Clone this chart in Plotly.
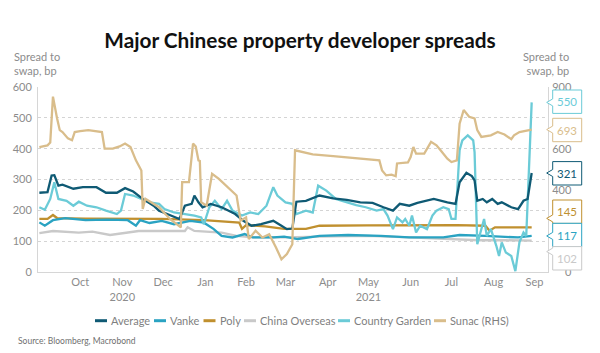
import plotly.graph_objects as go

# ---------------- data ----------------
avg_dates = ["2020-09-16","2020-09-22","2020-09-25","2020-09-27","2020-09-30","2020-10-03","2020-10-11",
             "2020-10-18","2020-10-28","2020-11-04","2020-11-12","2020-11-18","2020-11-24","2020-12-01",
             "2020-12-09","2020-12-13","2020-12-19","2020-12-28","2021-01-01","2021-01-06","2021-01-08",
             "2021-01-11","2021-01-14","2021-01-20","2021-01-28","2021-02-07","2021-02-13","2021-02-19",
             "2021-02-26","2021-03-07","2021-03-13","2021-03-17","2021-03-21","2021-03-24","2021-03-31",
             "2021-04-10","2021-04-20","2021-04-30","2021-05-10","2021-05-19","2021-05-27","2021-06-03",
             "2021-06-08","2021-06-15","2021-06-21","2021-07-03","2021-07-13","2021-07-19","2021-07-22",
             "2021-07-27","2021-07-31","2021-08-02","2021-08-04","2021-08-08","2021-08-11","2021-08-15",
             "2021-08-19","2021-08-22","2021-08-29","2021-09-03","2021-09-07","2021-09-10","2021-09-13"]
avg_vals = [257,259,313,314,280,283,270,275,275,257,257,272,261,237,215,199,188,172,215,221,248,
            226,210,221,210,188,166,150,155,166,150,139,141,228,231,248,239,234,226,224,210,199,
            221,215,224,237,226,221,291,322,311,297,231,237,226,237,221,226,210,204,231,237,321]

vanke_dates = ["2020-09-16","2020-09-20","2020-09-26","2020-10-05","2020-10-20","2020-11-05","2020-11-20",
               "2020-11-26","2020-11-29","2020-12-06","2020-12-15","2020-12-24","2021-01-05","2021-01-15",
               "2021-01-22","2021-01-28","2021-02-05","2021-02-14","2021-02-20","2021-03-07","2021-03-15",
               "2021-03-25","2021-04-10","2021-05-01","2021-05-25","2021-06-15","2021-07-10","2021-07-22",
               "2021-08-10","2021-09-03","2021-09-13"]
vanke_vals = [161,150,168,175,168,170,168,150,168,159,166,155,166,160,140,117,112,123,112,112,115,
              107,117,120,117,112,112,120,117,112,117]

poly_dates = ["2020-09-16","2020-09-22","2020-09-26","2020-09-29","2020-10-20","2020-11-15","2020-12-15",
              "2021-01-15","2021-02-05","2021-02-10","2021-02-12","2021-02-15","2021-03-01","2021-03-15",
              "2021-03-31","2021-04-10","2021-05-15","2021-06-15","2021-07-20","2021-08-10","2021-08-13",
              "2021-08-17","2021-09-13"]
poly_vals = [172,172,185,175,173,172,172,168,163,160,140,152,148,140,140,150,151,152,152,150,134,145,145]

co_dates = ["2020-09-16","2020-09-26","2020-10-15","2020-10-25","2020-11-07","2020-11-28","2020-12-15",
            "2021-01-01","2021-01-03","2021-01-08","2021-01-28","2021-02-08","2021-02-20","2021-03-15",
            "2021-04-10","2021-05-15","2021-06-15","2021-07-15","2021-08-05","2021-08-25","2021-09-13"]
co_vals = [126,133,128,131,120,133,133,133,145,133,128,117,112,112,115,117,112,107,103,103,102]

cg_dates = ["2020-09-16","2020-09-20","2020-09-24","2020-09-27","2020-09-30","2020-10-06","2020-10-11",
            "2020-10-15","2020-10-21","2020-10-28","2020-11-04","2020-11-12","2020-11-15","2020-11-18",
            "2020-11-24","2020-11-30","2020-12-06","2020-12-13","2020-12-17","2020-12-24","2021-01-01",
            "2021-01-08","2021-01-13","2021-01-15","2021-01-19","2021-01-23","2021-01-28","2021-02-01",
            "2021-02-05","2021-02-12","2021-02-18","2021-02-24","2021-03-02","2021-03-07","2021-03-10",
            "2021-03-16","2021-03-21","2021-03-24","2021-03-31","2021-04-05","2021-04-09","2021-04-15",
            "2021-04-22","2021-04-30","2021-05-07","2021-05-14","2021-05-22","2021-05-27","2021-05-30",
            "2021-06-03","2021-06-06","2021-06-10","2021-06-12","2021-06-15","2021-06-17","2021-06-20",
            "2021-06-23","2021-06-28","2021-07-02","2021-07-05","2021-07-10","2021-07-14","2021-07-16",
            "2021-07-19","2021-07-22","2021-07-24","2021-07-28","2021-08-01","2021-08-02","2021-08-04",
            "2021-08-07","2021-08-09","2021-08-11","2021-08-14","2021-08-18","2021-08-20","2021-08-22",
            "2021-08-25","2021-08-29","2021-09-01","2021-09-04","2021-09-07","2021-09-09","2021-09-10",
            "2021-09-13"]
cg_vals = [210,202,237,291,237,231,215,228,215,210,199,188,199,253,248,237,226,221,204,193,188,
           183,177,155,210,231,204,231,199,183,193,188,215,275,248,226,221,188,199,193,280,264,
           237,226,217,210,199,204,183,139,177,161,172,150,183,128,150,139,183,199,210,204,172,
           172,395,427,443,427,389,90,139,172,117,139,85,52,96,63,52,3,96,128,117,237,550]

sunac_dates = ["2020-09-16","2020-09-22","2020-09-24","2020-09-26","2020-09-29","2020-10-01","2020-10-03",
               "2020-10-07","2020-10-10","2020-10-12","2020-10-16","2020-10-22","2020-11-01","2020-11-03",
               "2020-11-09","2020-11-14","2020-11-18","2020-11-22","2020-11-26","2020-11-30","2020-12-01",
               "2020-12-03","2020-12-13","2020-12-21","2020-12-29","2020-12-30","2021-01-04","2021-01-07",
               "2021-01-09","2021-01-11","2021-01-12","2021-01-13","2021-01-17","2021-01-21","2021-01-26",
               "2021-02-05","2021-02-08","2021-02-11","2021-02-15","2021-02-17","2021-02-22","2021-02-27",
               "2021-03-04","2021-03-09","2021-03-13","2021-03-17","2021-03-21","2021-03-23","2021-04-05",
               "2021-04-20","2021-05-04","2021-05-24","2021-05-26","2021-05-29","2021-06-02","2021-06-05",
               "2021-06-06","2021-06-14","2021-06-16","2021-06-18","2021-06-20","2021-06-26","2021-07-01",
               "2021-07-05","2021-07-08","2021-07-13","2021-07-16","2021-07-20","2021-07-22","2021-07-25",
               "2021-07-29","2021-08-02","2021-08-04","2021-08-07","2021-08-14","2021-08-19","2021-08-24",
               "2021-08-29","2021-08-31","2021-09-04","2021-09-13"]
sunac_vals = [608,616,630,853,748,690,681,650,641,681,685,690,681,600,600,611,625,608,543,494,307,
              356,315,258,217,437,437,625,610,543,540,339,323,478,453,388,372,250,266,160,201,168,
              184,119,62,87,135,592,572,564,554,543,494,470,474,466,528,533,559,608,576,576,633,
              616,592,551,535,543,722,788,755,747,690,657,665,681,669,646,665,681,693]

month_ticks = ["2020-10-16","2020-11-16","2020-12-16","2021-01-16","2021-02-15","2021-03-16",
               "2021-04-16","2021-05-16","2021-06-16","2021-07-16","2021-08-16","2021-09-15"]
month_labels = ["Oct","Nov<br>2020","Dec","Jan","Feb","Mar","Apr","May<br>2021","Jun","Jul","Aug","Sep"]
left_ticks = [0,100,200,300,400,500,600]
right_ticks = [0,100,200,300,400,500,600,700,800,900]
right_ticks_hidden = [100,200,300,500,700,800]   # covered by the end-value callouts

# ---------------- styling / layout ----------------
W, H = 600, 353
L, R, T, B = 38, 52, 87, 81
PW, PH = W - L - R, H - T - B
LEFT_RANGE, RIGHT_RANGE = [0, 600], [0, 900]
FONT = "Lato"
GREY = "#8c8c8c"

def px_x(px):
    return (px - L) / PW

def px_y(py):
    return (H - B - py) / PH

series = {
    "Average":        dict(x=avg_dates,   y=avg_vals,   color="#0f5a74", axis="y"),
    "Vanke":          dict(x=vanke_dates, y=vanke_vals, color="#2aa3c2", axis="y"),
    "Poly":           dict(x=poly_dates,  y=poly_vals,  color="#c0902f", axis="y"),
    "China Overseas": dict(x=co_dates,    y=co_vals,    color="#c9c9c9", axis="y"),
    "Country Garden": dict(x=cg_dates,    y=cg_vals,    color="#6bcbd7", axis="y"),
    "Sunac (RHS)":    dict(x=sunac_dates, y=sunac_vals, color="#d9bd8b", axis="y2"),
}
draw_order = ["China Overseas", "Poly", "Vanke", "Country Garden", "Average", "Sunac (RHS)"]

fig = go.Figure()
for name in draw_order:
    s = series[name]
    fig.add_trace(go.Scatter(x=s["x"], y=s["y"], name=name, mode="lines", yaxis=s["axis"],
                             line=dict(color=s["color"], width=2.3), showlegend=False,
                             hoverinfo="x+y+name"))

shapes, annots = [], []

# manual compact legend
legend_order = ["Average", "Vanke", "Poly", "China Overseas", "Country Garden", "Sunac (RHS)"]
legend_text_px = [110, 169, 218.5, 259, 353, 449]
leg_y = px_y(320.7)
for name, tx in zip(legend_order, legend_text_px):
    shapes.append(dict(type="line", xref="paper", yref="paper", x0=px_x(tx - 15), x1=px_x(tx - 3),
                       y0=leg_y, y1=leg_y, line=dict(color=series[name]["color"], width=3)))
    annots.append(dict(xref="paper", yref="paper", x=px_x(tx - 1), y=leg_y, text=name, showarrow=False,
                       xanchor="left", yanchor="middle", font=dict(family=FONT, size=11, color="#7f7f7f")))

# end-value callouts on the right
callouts = [("Country Garden", 101.7), ("Sunac (RHS)", 130.0), ("Average", 173.3),
            ("Poly", 211.7), ("Vanke", 235.0), ("China Overseas", 258.3)]
box_l, box_r, tip_x = px_x(552.7), px_x(581.7), px_x(546.7)
half_h, notch = 11.7 / PH, 3.5 / PH
for name, cy_px in callouts:
    s = series[name]
    last = s["y"][-1]
    rng = RIGHT_RANGE if s["axis"] == "y2" else LEFT_RANGE
    val_p = (last - rng[0]) / (rng[1] - rng[0])
    cy = px_y(cy_px)
    top, bot = cy + half_h, cy - half_h
    tip = min(max(val_p, bot + notch + 1.5 / PH), top - notch - 1.5 / PH)
    path = (f"M{box_l},{tip + notch} L{box_l},{top} L{box_r},{top} L{box_r},{bot} "
            f"L{box_l},{bot} L{box_l},{tip - notch} L{tip_x},{tip} Z")
    shapes.append(dict(type="path", xref="paper", yref="paper", path=path, fillcolor="white",
                       line=dict(color=s["color"], width=1), layer="above"))
    annots.append(dict(xref="paper", yref="paper", x=(box_l + box_r) / 2, y=cy, text=str(last),
                       showarrow=False, xanchor="center", yanchor="middle",
                       font=dict(family=FONT, size=11.5, color=s["color"])))

# axis titles and source
annots.append(dict(xref="paper", yref="paper", x=px_x(12), y=px_y(63.5), text="Spread to<br>swap, bp",
                   showarrow=False, xanchor="left", yanchor="middle", align="left",
                   font=dict(family=FONT, size=11, color=GREY)))
annots.append(dict(xref="paper", yref="paper", x=px_x(571), y=px_y(63.5), text="Spread to<br>swap, bp",
                   showarrow=False, xanchor="right", yanchor="middle", align="right",
                   font=dict(family=FONT, size=11, color=GREY)))
annots.append(dict(xref="paper", yref="paper", x=px_x(15.5), y=px_y(340.7),
                   text="Source: Bloomberg, Macrobond", showarrow=False, xanchor="left", yanchor="middle",
                   font=dict(family=FONT, size=8.5, color="#6f6f6f")))

axis_common = dict(showline=True, linecolor="#d6d6d6", linewidth=1, ticks="", zeroline=False,
                   tickfont=dict(family=FONT, size=11, color=GREY))

right_text = []
for v in right_ticks:
    if v in right_ticks_hidden:
        right_text.append("")
    elif v == 0:
        right_text.append("\u2007\u20070")
    else:
        right_text.append(str(v))

fig.update_layout(
    width=W, height=H, margin=dict(l=L, r=R, t=T, b=B),
    paper_bgcolor="white", plot_bgcolor="white",
    title=dict(text="Major Chinese property developer spreads", x=0.5, xref="container",
               y=1 - 40.5 / H, yref="container", xanchor="center", yanchor="middle",
               font=dict(family=FONT, size=20.8, color="#111111", weight=700)),
    xaxis=dict(type="date", range=["2020-09-15", "2021-09-25"], tickvals=month_ticks,
               ticktext=month_labels, showgrid=False, **axis_common),
    yaxis=dict(range=LEFT_RANGE, tickvals=left_ticks, ticktext=[str(v) for v in left_ticks],
               showgrid=True, gridcolor="#d4d4d4", griddash="dot", gridwidth=1,
               ticklabelstandoff=3, **axis_common),
    yaxis2=dict(range=RIGHT_RANGE, overlaying="y", side="right", tickvals=right_ticks,
                ticktext=right_text, showgrid=False, ticklabelstandoff=1, **axis_common),
    shapes=shapes, annotations=annots, showlegend=False,
)

fig.write_html("out.html")
